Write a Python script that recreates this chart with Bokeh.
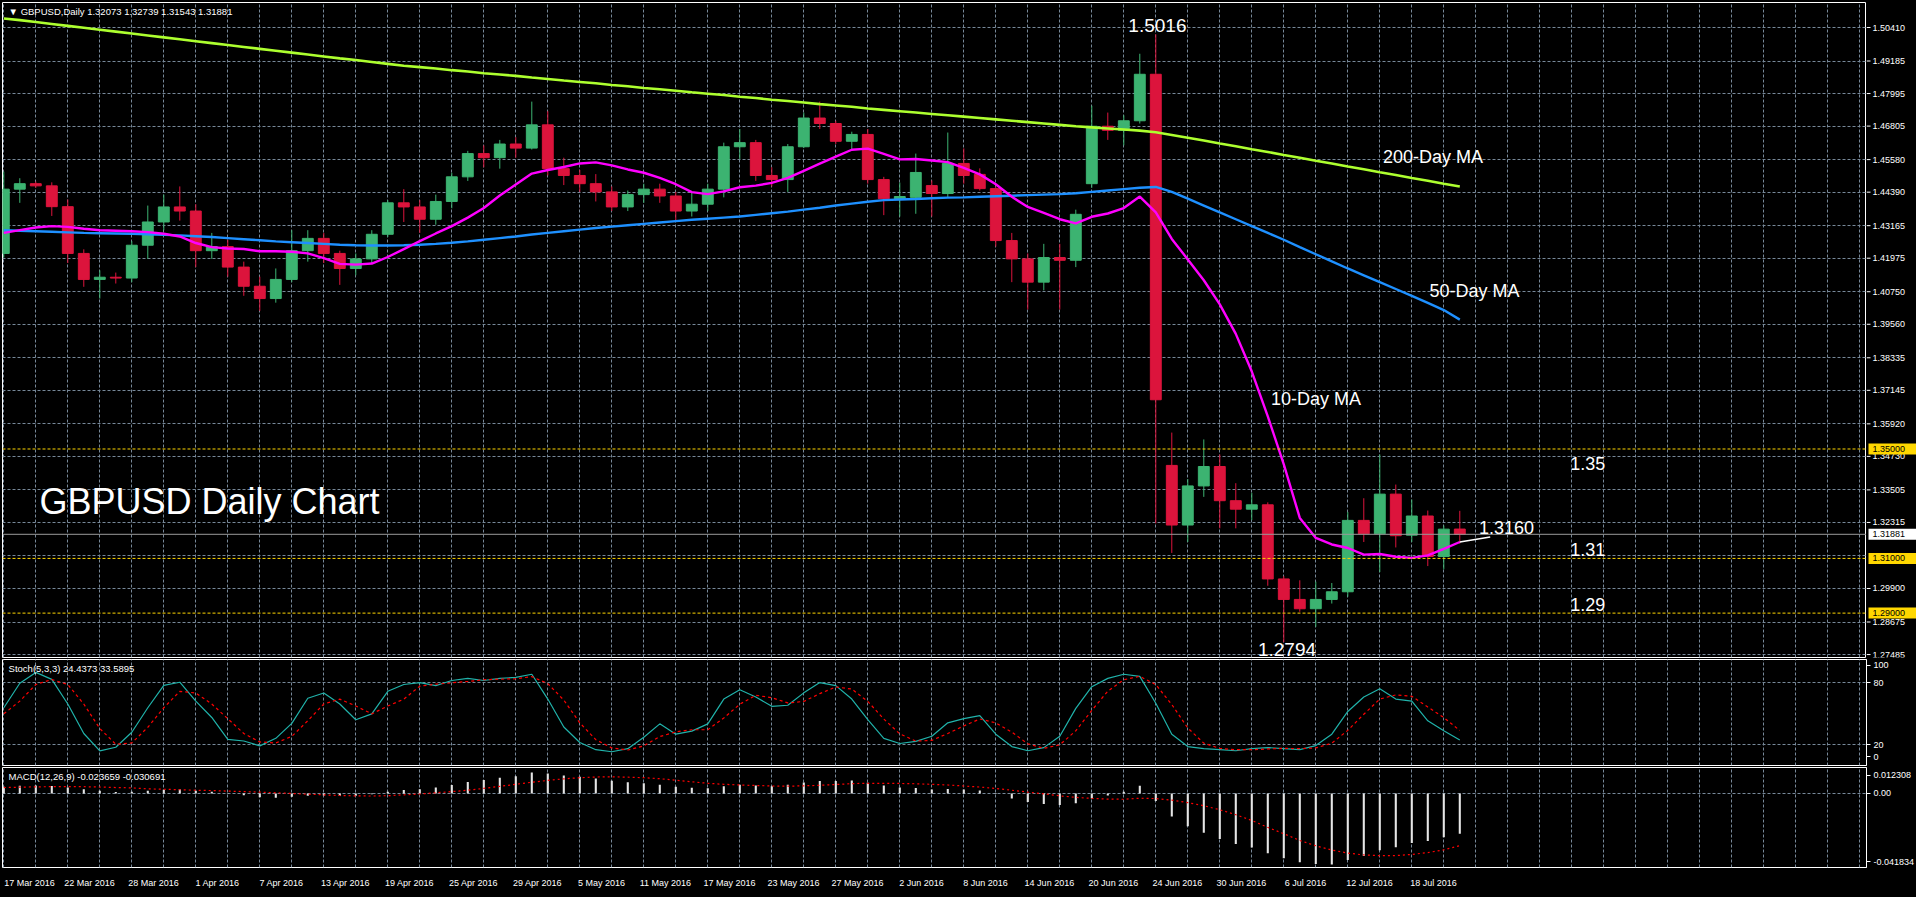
from bokeh.plotting import figure
from bokeh.layouts import column, row
from bokeh.models import (Range1d, FixedTicker, Span, Label, AllLabels,
                          ColumnDataSource, GlobalInlineStyleSheet)
from bokeh.core.properties import value
from bokeh.embed import file_html
from bokeh.resources import INLINE

# ---------------- data ----------------
date_labels = ["17 Mar 2016", "22 Mar 2016", "28 Mar 2016", "1 Apr 2016", "7 Apr 2016",
               "13 Apr 2016", "19 Apr 2016", "25 Apr 2016", "29 Apr 2016", "5 May 2016",
               "11 May 2016", "17 May 2016", "23 May 2016", "27 May 2016", "2 Jun 2016",
               "8 Jun 2016", "14 Jun 2016", "20 Jun 2016", "24 Jun 2016", "30 Jun 2016",
               "6 Jul 2016", "12 Jul 2016", "18 Jul 2016"]
date_bars = [0, 4, 8, 12, 16, 20, 24, 28, 32, 36, 40, 44, 48, 52, 56, 60, 64, 68, 72, 76, 80, 84, 88]

opens = [1.4215, 1.4450, 1.4470, 1.4462, 1.4386, 1.4215, 1.4120, 1.4128, 1.4125, 1.4245,
         1.4330, 1.4385, 1.4370, 1.4225, 1.4240, 1.4165, 1.4095, 1.4050, 1.4120, 1.4225,
         1.4270, 1.4215, 1.4160, 1.4195, 1.4285, 1.4400, 1.4385, 1.4340, 1.4405, 1.4495,
         1.4580, 1.4565, 1.4615, 1.4600, 1.4685, 1.4525, 1.4500, 1.4470, 1.4440, 1.4385,
         1.4430, 1.4450, 1.4425, 1.4370, 1.4395, 1.4450, 1.4605, 1.4620, 1.4500, 1.4485,
         1.4605, 1.4710, 1.4690, 1.4625, 1.4650, 1.4485, 1.4415, 1.4420, 1.4463, 1.4434,
         1.4544, 1.4504, 1.4452, 1.4262, 1.4195, 1.4110, 1.4200, 1.4190, 1.4470, 1.4680,
         1.4665, 1.4700, 1.4870, 1.3440, 1.3222, 1.3365, 1.3436, 1.3311, 1.3280, 1.3296,
         1.3025, 1.2950, 1.2916, 1.2950, 1.2978, 1.3239, 1.3190, 1.3335, 1.3185, 1.3255,
         1.3107, 1.32073]
highs = [1.4514, 1.4490, 1.4478, 1.4475, 1.4412, 1.4230, 1.4153, 1.4145, 1.4260, 1.4390,
         1.4430, 1.4460, 1.4395, 1.4290, 1.4265, 1.4185, 1.4130, 1.4160, 1.4300, 1.4300,
         1.4290, 1.4225, 1.4215, 1.4300, 1.4410, 1.4450, 1.4410, 1.4430, 1.4510, 1.4590,
         1.4610, 1.4630, 1.4640, 1.4770, 1.4735, 1.4565, 1.4520, 1.4505, 1.4460, 1.4445,
         1.4470, 1.4470, 1.4440, 1.4440, 1.4470, 1.4620, 1.4670, 1.4630, 1.4530, 1.4615,
         1.4730, 1.4770, 1.4700, 1.4660, 1.4670, 1.4495, 1.4474, 1.4580, 1.4482, 1.4657,
         1.4599, 1.4526, 1.4460, 1.4290, 1.4215, 1.4250, 1.4250, 1.4375, 1.4755, 1.4730,
         1.4720, 1.4945, 1.5016, 1.3560, 1.3390, 1.3535, 1.3480, 1.3375, 1.3340, 1.3305,
         1.3035, 1.3020, 1.3015, 1.3010, 1.3270, 1.3320, 1.3480, 1.3370, 1.3315, 1.3275,
         1.3220, 1.32739]
lows = [1.4200, 1.4400, 1.4455, 1.4352, 1.4180, 1.4093, 1.4050, 1.4105, 1.4110, 1.4195,
        1.4300, 1.4335, 1.4165, 1.4195, 1.4130, 1.4060, 1.4005, 1.4035, 1.4110, 1.4185,
        1.4180, 1.4100, 1.4135, 1.4180, 1.4275, 1.4330, 1.4290, 1.4320, 1.4380, 1.4480,
        1.4530, 1.4525, 1.4565, 1.4595, 1.4500, 1.4465, 1.4440, 1.4405, 1.4370, 1.4370,
        1.4400, 1.4400, 1.4335, 1.4350, 1.4370, 1.4420, 1.4560, 1.4480, 1.4460, 1.4440,
        1.4600, 1.4670, 1.4615, 1.4595, 1.4470, 1.4355, 1.4350, 1.4360, 1.4350, 1.4420,
        1.4470, 1.4445, 1.4240, 1.4110, 1.4010, 1.4080, 1.4010, 1.4165, 1.4455, 1.4630,
        1.4610, 1.4690, 1.3228, 1.3120, 1.3160, 1.3325, 1.3210, 1.3210, 1.3240, 1.3000,
        1.2794, 1.2905, 1.2850, 1.2935, 1.2960, 1.3160, 1.3050, 1.3140, 1.3160, 1.3072,
        1.3060, 1.31543]
closes = [1.4450, 1.4470, 1.4462, 1.4386, 1.4215, 1.4120, 1.4128, 1.4125, 1.4245, 1.4330,
          1.4385, 1.4370, 1.4225, 1.4240, 1.4165, 1.4095, 1.4050, 1.4120, 1.4225, 1.4270,
          1.4215, 1.4160, 1.4195, 1.4285, 1.4400, 1.4385, 1.4340, 1.4405, 1.4495, 1.4580,
          1.4565, 1.4615, 1.4600, 1.4685, 1.4525, 1.4500, 1.4470, 1.4440, 1.4385, 1.4430,
          1.4450, 1.4425, 1.4370, 1.4395, 1.4450, 1.4605, 1.4620, 1.4500, 1.4485, 1.4605,
          1.4710, 1.4690, 1.4625, 1.4650, 1.4485, 1.4415, 1.4423, 1.4511, 1.4434, 1.4544,
          1.4500, 1.4452, 1.4262, 1.4195, 1.4110, 1.4200, 1.4190, 1.4358, 1.4680, 1.4665,
          1.4700, 1.4870, 1.3680, 1.3222, 1.3365, 1.3436, 1.3311, 1.3280, 1.3296, 1.3025,
          1.2950, 1.2916, 1.2950, 1.2978, 1.3239, 1.3190, 1.3335, 1.3183, 1.3255, 1.3107,
          1.3207, 1.31881]

ma10 = [1.4290, 1.4300, 1.4310, 1.4315, 1.4312, 1.4305, 1.4300, 1.4298, 1.4296, 1.4293,
        1.4287, 1.4277, 1.4253, 1.4238, 1.4233, 1.4231, 1.4223, 1.4223, 1.4221, 1.4215,
        1.4198, 1.4177, 1.4174, 1.4178, 1.4202, 1.4231, 1.4260, 1.4288, 1.4315, 1.4346,
        1.4381, 1.4427, 1.4467, 1.4507, 1.4520, 1.4531, 1.4544, 1.4548, 1.4537, 1.4522,
        1.4510, 1.4491, 1.4468, 1.4439, 1.4432, 1.4442, 1.4457, 1.4463, 1.4473, 1.4491,
        1.4517, 1.4543, 1.4569, 1.4594, 1.4598, 1.4579, 1.4559, 1.4560, 1.4555, 1.4549,
        1.4528, 1.4504, 1.4468, 1.4422, 1.4385, 1.4363, 1.4340, 1.4325, 1.4349, 1.4361,
        1.4381, 1.4423, 1.4365, 1.4268, 1.4193, 1.4117, 1.4029, 1.3921, 1.3783, 1.3619,
        1.3444, 1.3248, 1.3175, 1.3151, 1.3138, 1.3114, 1.3116, 1.3106, 1.3102, 1.3111,
        1.3135, 1.3160]
ma50 = [1.4300, 1.4298, 1.4296, 1.4294, 1.4292, 1.4290, 1.4289, 1.4288, 1.4287, 1.4285,
        1.4283, 1.4281, 1.4278, 1.4275, 1.4271, 1.4267, 1.4263, 1.4259, 1.4256, 1.4253,
        1.4250, 1.4247, 1.4245, 1.4244, 1.4244, 1.4245, 1.4247, 1.4250, 1.4254, 1.4259,
        1.4265, 1.4271, 1.4277, 1.4284, 1.4290, 1.4296, 1.4302, 1.4308, 1.4313, 1.4318,
        1.4323, 1.4328, 1.4333, 1.4338, 1.4342, 1.4346, 1.4350, 1.4356, 1.4362, 1.4368,
        1.4375, 1.4382, 1.4390, 1.4397, 1.4404, 1.4410, 1.4412, 1.4414, 1.4417, 1.4419,
        1.4420, 1.4422, 1.4424, 1.4426, 1.4428, 1.4430, 1.4432, 1.4435, 1.4440, 1.4445,
        1.4450, 1.4455, 1.4458, 1.4440, 1.4415, 1.4390, 1.4365, 1.4340, 1.4315, 1.4290,
        1.4265, 1.4238, 1.4212, 1.4186, 1.4160, 1.4135, 1.4110, 1.4085, 1.4060, 1.4034,
        1.4008, 1.3973]
ma200 = [1.5074, 1.5068, 1.5061, 1.5054, 1.5047, 1.5040, 1.5033, 1.5026, 1.5019, 1.5012,
         1.5005, 1.4998, 1.4991, 1.4984, 1.4977, 1.4970, 1.4963, 1.4956, 1.4949, 1.4942,
         1.4935, 1.4928, 1.4922, 1.4915, 1.4908, 1.4901, 1.4896, 1.4891, 1.4885, 1.4880,
         1.4874, 1.4869, 1.4864, 1.4858, 1.4853, 1.4847, 1.4842, 1.4837, 1.4831, 1.4826,
         1.4820, 1.4815, 1.4810, 1.4804, 1.4799, 1.4794, 1.4788, 1.4783, 1.4777, 1.4772,
         1.4767, 1.4761, 1.4756, 1.4751, 1.4745, 1.4740, 1.4735, 1.4730, 1.4725, 1.4720,
         1.4715, 1.4710, 1.4705, 1.4700, 1.4695, 1.4690, 1.4685, 1.4680, 1.4676, 1.4672,
         1.4668, 1.4664, 1.4658, 1.4648, 1.4638, 1.4628, 1.4617, 1.4607, 1.4596, 1.4586,
         1.4575, 1.4565, 1.4554, 1.4544, 1.4533, 1.4523, 1.4512, 1.4502, 1.4491, 1.4481,
         1.4470, 1.4460]

stoch_k = [55.6, 79.3, 89.8, 83.1, 59.2, 30.7, 13.9, 17.4, 31.9, 55.6,
           77.2, 80.3, 62.0, 46.2, 25.0, 23.4, 18.7, 26.0, 40.5, 64.8,
           69.9, 59.2, 44.0, 49.7, 71.5, 78.1, 80.0, 77.0, 82.0, 84.0,
           82.0, 84.0, 85.0, 88.0, 64.0, 37.0, 22.0, 15.0, 13.0, 16.0,
           27.0, 40.0, 30.0, 33.0, 40.0, 64.0, 73.0, 66.0, 57.0, 58.0,
           70.0, 80.0, 77.0, 64.0, 44.0, 26.0, 21.0, 23.0, 28.0, 41.0,
           45.0, 48.0, 30.0, 18.0, 14.0, 17.0, 28.0, 55.0, 76.0, 84.0,
           88.0, 86.0, 60.0, 30.0, 18.0, 16.0, 15.0, 14.0, 16.0, 17.0,
           16.0, 15.0, 19.0, 30.0, 52.0, 66.0, 74.0, 64.0, 62.0, 43.0,
           33.3, 24.4373]
stoch_d = [49.7, 62.0, 78.1, 82.9, 78.1, 59.2, 35.5, 20.3, 21.5, 36.7,
           55.6, 71.5, 69.9, 59.2, 45.0, 30.7, 22.5, 21.5, 27.9, 43.0,
           59.2, 63.9, 57.3, 49.7, 57.3, 63.9, 76.5, 78.4, 79.7, 81.0,
           82.7, 83.3, 83.7, 85.7, 79.0, 63.0, 41.0, 24.7, 16.7, 14.7,
           18.7, 27.7, 32.3, 34.3, 34.3, 45.7, 59.0, 67.7, 65.3, 60.3,
           61.7, 69.3, 75.7, 73.7, 61.7, 44.7, 30.3, 23.3, 24.0, 30.7,
           38.0, 44.7, 41.0, 32.0, 20.7, 16.3, 19.7, 33.3, 53.0, 71.7,
           82.7, 86.0, 78.0, 58.7, 36.0, 21.3, 16.3, 15.0, 15.0, 15.7,
           16.3, 16.0, 16.7, 21.3, 33.7, 49.3, 64.0, 68.0, 66.7, 56.3,
           46.1, 33.5895]

macd_main = [0.0040, 0.0045, 0.0047, 0.0044, 0.0035, 0.0025, 0.0016, 0.0009, 0.0010, 0.0016,
             0.0022, 0.0025, 0.0016, 0.0010, 0.0001, -0.0010, -0.0022, -0.0025, -0.0020, -0.0013,
             -0.0012, -0.0015, -0.0013, -0.0005, 0.0010, 0.0020, 0.0025, 0.0035, 0.0050, 0.0068,
             0.0080, 0.0093, 0.0101, 0.0123, 0.0118, 0.0106, 0.0098, 0.0088, 0.0075, 0.0066,
             0.0060, 0.0052, 0.0040, 0.0033, 0.0031, 0.0042, 0.0051, 0.0047, 0.0043, 0.0051,
             0.0065, 0.0073, 0.0074, 0.0076, 0.0063, 0.0047, 0.0035, 0.0032, 0.0023, 0.0026,
             0.0024, 0.0018, -0.0003, -0.0030, -0.0050, -0.0062, -0.0068, -0.0058, -0.0030, -0.0012,
             0.0010, 0.0045, -0.0045, -0.0135, -0.0193, -0.0232, -0.0268, -0.0298, -0.0318, -0.0352,
             -0.0382, -0.0405, -0.0416, -0.0418, -0.0392, -0.0368, -0.0335, -0.0316, -0.0292, -0.0280,
             -0.0258, -0.023659]
macd_signal = [0.0035, 0.0037, 0.0039, 0.0040, 0.0041, 0.0040, 0.0038, 0.0035, 0.0033, 0.0027,
               0.0025, 0.0022, 0.0019, 0.0017, 0.0014, 0.0011, 0.0008, 0.0004, 0.0000, -0.0004,
               -0.0008, -0.0012, -0.0014, -0.0015, -0.0013, -0.0008, -0.0003, 0.0004, 0.0011, 0.0019,
               0.0030, 0.0042, 0.0054, 0.0066, 0.0077, 0.0086, 0.0093, 0.0097, 0.0098, 0.0096,
               0.0093, 0.0087, 0.0078, 0.0069, 0.0060, 0.0054, 0.0050, 0.0047, 0.0044, 0.0043,
               0.0045, 0.0048, 0.0053, 0.0058, 0.0060, 0.0060, 0.0059, 0.0057, 0.0054, 0.0050,
               0.0044, 0.0038, 0.0029, 0.0019, 0.0008, -0.0002, -0.0014, -0.0023, -0.0029, -0.0033,
               -0.0034, -0.0028, -0.0030, -0.0039, -0.0054, -0.0072, -0.0096, -0.0125, -0.0159, -0.0200,
               -0.0237, -0.0277, -0.0308, -0.0333, -0.0351, -0.0362, -0.0366, -0.0366, -0.0359, -0.0348,
               -0.0332, -0.030691]

price_ticks = [1.50410, 1.49185, 1.47995, 1.46805, 1.45580, 1.44390, 1.43165, 1.41975,
               1.40750, 1.39560, 1.38335, 1.37145, 1.35920, 1.34730, 1.33505, 1.32315,
               1.29900, 1.28675, 1.27485]
hidden_grid_price = [1.31100]
levels = [1.35, 1.31, 1.29]
level_texts = ["1.35", "1.31", "1.29"]
last_price = closes[-1]
stoch_labels = ["0", "20", "80", "100"]

# ---------------- style ----------------
FONT = "Liberation Sans"
GRID = "#778899"
BULL = "#3CB371"
BEAR = "#DC143C"
GOLD = "#FFD700"
FW = 1864          # frame width of every panel
AXW = 50           # width of the price-scale strip
PX = 0.0003656     # price per pixel of the main panel
TOP = 1.51324
xr = Range1d(-0.081, -0.081 + FW / 16.0)
grid_x = list(range(0, 118, 2))

n = len(closes)
xs = list(range(n))
src = ColumnDataSource(dict(
    x=xs, o=opens, h=highs, l=lows, c=closes,
    top=[max(a, b) for a, b in zip(opens, closes)],
    bottom=[min(a, b) for a, b in zip(opens, closes)],
    color=[BULL if c >= o else BEAR for o, c in zip(opens, closes)],
))


def base(height, yr, border_bottom, show_x=False, show_y=True):
    p = figure(frame_width=FW, frame_height=height, x_range=xr, y_range=yr,
               y_axis_location=("right" if show_y else None),
               x_axis_location=("below" if show_x else None),
               toolbar_location=None, output_backend="svg",
               background_fill_color="black", border_fill_color="black",
               outline_line_color="white", outline_line_width=1,
               min_border_left=2, min_border_top=0, min_border_right=0,
               min_border_bottom=border_bottom)
    p.xgrid.ticker = FixedTicker(ticks=grid_x)
    for g in (p.xgrid, p.ygrid):
        g.grid_line_color = GRID
        g.grid_line_dash = "3 2"
        g.grid_line_width = 1
    if show_y:
        ya = p.yaxis[0]
        ya.axis_line_color = "white"
        ya.major_tick_line_color = "white"
        ya.major_tick_out = 4
        ya.major_tick_in = 0
        ya.minor_tick_line_color = None
        ya.major_label_text_color = "white"
        ya.major_label_text_font = FONT
        ya.major_label_text_font_size = "9px"
        ya.major_label_standoff = 3
        ya.major_label_policy = AllLabels()
    return p


def note(p, x, y, text, size="18px", align="left", color="white"):
    p.add_layout(Label(x=x, y=y, text=text, text_color=color, text_font=FONT,
                       text_font_size=size, text_align=align, text_baseline="middle"))


# ---------------- main price panel ----------------
yr_main = Range1d(TOP - 655 * PX, TOP)
p1 = base(655, yr_main, 2, show_y=False)
p1.min_border_top = 2
p1.ygrid.ticker = FixedTicker(ticks=price_ticks + hidden_grid_price)

for lv in levels:
    p1.add_layout(Span(location=lv, dimension="width", line_color=GOLD,
                       line_dash="3 2", line_width=1))
p1.add_layout(Span(location=last_price, dimension="width", line_color="#9A9A9A", line_width=1))

p1.segment(x0="x", y0="l", x1="x", y1="h", line_color="color", line_width=1, source=src)
p1.vbar(x="x", width=0.68, top="top", bottom="bottom", fill_color="color",
        line_color="color", line_width=1, source=src)

p1.line(xs, ma200, line_color="#ADFF2F", line_width=2.6)
p1.line(xs, ma50, line_color="#1E90FF", line_width=2.4)
p1.line(xs, ma10, line_color="#FF00FF", line_width=2.4)
p1.line([xs[-1], xs[-1] + 1.9], [ma10[-1], 1.3178], line_color="white", line_width=1.5)

note(p1, 0.30, 1.5100,
     f"\u25BC  GBPUSD,Daily  {opens[-1]:.5f} {highs[-1]:.5f} {lows[-1]:.5f} {closes[-1]:.5f}",
     size="9.5px")
note(p1, 72.1, 1.5050, f"{max(highs):.4f}", size="19px", align="center")
note(p1, 80.2, 1.2768, f"{min(lows):.4f}", size="19px", align="center")
note(p1, 86.2, 1.4566, "200-Day MA")
note(p1, 89.1, 1.4079, "50-Day MA")
note(p1, 79.2, 1.3681, "10-Day MA")
note(p1, 92.2, 1.3214, f"{ma10[-1]:.4f}")
for lv, t in zip([1.3448, 1.3131, 1.2930], level_texts):
    note(p1, 97.9, lv, t)
note(p1, 2.23, 1.3309, "GBPUSD Daily Chart", size="36px")

# price scale strip (shares the price range of the main panel)
pa = figure(frame_width=AXW, frame_height=655, x_range=Range1d(0, AXW), y_range=yr_main,
            x_axis_location=None, y_axis_location=None, toolbar_location=None,
            output_backend="svg", background_fill_color="black", border_fill_color="black",
            outline_line_color=None, min_border_left=0, min_border_right=0,
            min_border_top=2, min_border_bottom=2)
pa.grid.visible = False
pa.segment(x0=0, x1=4, y0=price_ticks, y1=price_ticks, line_color="white", line_width=1)
pa.text(x=6, y=price_ticks, text=[f"{t:.5f}" for t in price_ticks], text_color="white",
        text_font=value(FONT), text_font_size="9px", text_baseline="middle")
box_y = levels + [last_price]
box_c = [GOLD] * len(levels) + ["white"]
pa.quad(left=2, right=AXW, bottom=[v - 5.5 * PX for v in box_y], top=[v + 5.5 * PX for v in box_y],
        fill_color=box_c, line_color=None)
pa.text(x=6, y=box_y, text=[f"{v:.5f}" for v in box_y], text_color="black",
        text_font=value(FONT), text_font_size="9px", text_baseline="middle")

# ---------------- stochastic panel ----------------
p2 = base(106, Range1d(-0.3, 102.3), 2)
st_ticks = [8.0, 20.0, 80.0, 96.5]
p2.yaxis[0].ticker = FixedTicker(ticks=st_ticks)
p2.yaxis[0].major_label_overrides = {t: s for t, s in zip(st_ticks, stoch_labels)}
p2.ygrid.ticker = FixedTicker(ticks=[20, 80])
p2.line(xs, stoch_k, line_color="#20B2AA", line_width=1.2)
p2.line(xs, stoch_d, line_color="#FF0000", line_width=1.2, line_dash="3 3")
note(p2, 0.30, 93.5, f"Stoch(5,3,3) {stoch_k[-1]:.4f} {stoch_d[-1]:.4f}", size="9.5px")

# ---------------- MACD panel ----------------
p3 = base(100, Range1d(-0.0436, 0.0153), 8, show_x=True)
mc_ticks = [0.0106, 0.0, -0.0401]
p3.yaxis[0].ticker = FixedTicker(ticks=mc_ticks)
p3.yaxis[0].major_label_overrides = {0.0106: "0.012308", 0.0: "0.00", -0.0401: "-0.041834"}
p3.ygrid.ticker = FixedTicker(ticks=[0.0])
p3.vbar(x=xs, top=macd_main, bottom=0, width=0.13, fill_color="#E6E6E6", line_color=None)
p3.line(xs, macd_signal, line_color="#FF0000", line_width=1.2, line_dash="2 3")
note(p3, 0.30, 0.0100, f"MACD(12,26,9) {macd_main[-1]:.6f} {macd_signal[-1]:.6f}", size="9.5px")

date_pos = [max(b + 1.35, 1.6) for b in date_bars]
xa = p3.xaxis[0]
xa.ticker = FixedTicker(ticks=date_pos)
xa.major_label_overrides = {pos: lab for pos, lab in zip(date_pos, date_labels)}
xa.axis_line_color = None
xa.major_tick_line_color = None
xa.minor_tick_line_color = None
xa.major_tick_out = 0
xa.major_label_standoff = 10
xa.major_label_text_color = "white"
xa.major_label_text_font = FONT
xa.major_label_text_font_size = "9px"
xa.major_label_policy = AllLabels()

layout = column(row(p1, pa, spacing=0), p2, p3, spacing=0,
                stylesheets=[GlobalInlineStyleSheet(css="html, body { background: #000000; }")])

open("out.html", "w").write(file_html(layout, INLINE))
